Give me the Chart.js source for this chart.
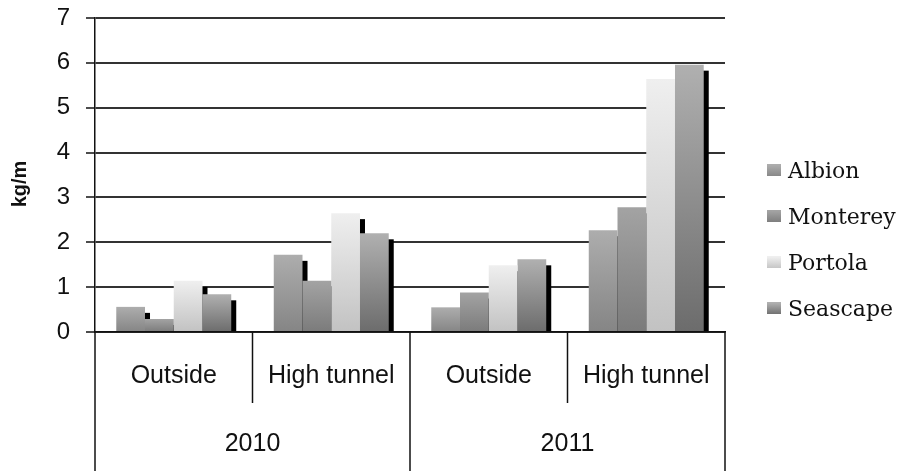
<!DOCTYPE html>
<html>
<head>
<meta charset="utf-8">
<script src="https://cdn.jsdelivr.net/npm/chart.js@4/dist/chart.umd.min.js"></script>
<style>
  html, body { margin: 0; padding: 0; background: #ffffff; }
  #wrap { width: 909px; height: 471px; }
</style>
</head>
<body>
<div id="wrap"><canvas id="c" width="909" height="471"></canvas></div>
<script>
// Yield per metre of row, by variety, growing system and year
const years = ['2010', '2011'];
const systems = ['Outside', 'High tunnel', 'Outside', 'High tunnel'];
const varieties = ['Albion', 'Monterey', 'Portola', 'Seascape'];
const albion   = [0.56, 1.72, 0.55, 2.27];
const monterey = [0.29, 1.14, 0.88, 2.78];
const portola  = [1.14, 2.65, 1.49, 5.64];
const seascape = [0.84, 2.20, 1.62, 5.96];
const yTicks = [0, 1, 2, 3, 4, 5, 6, 7];
const yTitle = 'kg/m';

// top / bottom shades of each bar's vertical gradient
const shades = [
  ['#adadad', '#858585'],
  ['#a3a3a3', '#7b7b7b'],
  ['#efefef', '#c2c2c2'],
  ['#b0b0b0', '#6c6c6c']
];

function barFill(i) {
  return function (ctx) {
    const chart = ctx.chart;
    const y = chart.scales.y;
    if (!chart.chartArea || !y || ctx.raw === undefined) return shades[i][1];
    const top = y.getPixelForValue(ctx.raw);
    const bottom = y.getPixelForValue(0);
    if (!isFinite(top) || !isFinite(bottom) || bottom - top < 1) return shades[i][1];
    const g = chart.ctx.createLinearGradient(0, top, 0, bottom);
    g.addColorStop(0, shades[i][0]);
    g.addColorStop(1, shades[i][1]);
    return g;
  };
}

const seriesValues = [albion, monterey, portola, seascape];
const datasets = varieties.map((name, i) => ({
  label: name,
  data: seriesValues[i],
  backgroundColor: barFill(i),
  borderWidth: 0,
  categoryPercentage: 0.73,
  barPercentage: 1.0
}));

// dark drop shadow to the lower right of every bar
const barShadow = {
  id: 'barShadow',
  beforeDatasetsDraw(chart) {
    const ctx = chart.ctx, a = chart.chartArea;
    ctx.save();
    ctx.beginPath();
    ctx.rect(a.left, a.top - 2, a.right - a.left + 10, a.bottom - a.top + 2);
    ctx.clip();
    ctx.fillStyle = '#000000';
    chart.data.datasets.forEach((ds, di) => {
      chart.getDatasetMeta(di).data.forEach(el => {
        const p = el.getProps(['x', 'y', 'base', 'width'], true);
        const left = p.x - p.width / 2 + 5;
        const top = p.y + 6;
        if (p.base > top) ctx.fillRect(left, top, p.width, p.base - top);
      });
    });
    ctx.restore();
  }
};

// two-level category axis, y title and legend
const decorations = {
  id: 'decorations',
  afterDraw(chart) {
    const ctx = chart.ctx, a = chart.chartArea, x = chart.scales.x;
    const H = chart.height;
    const centers = systems.map((_, i) => x.getPixelForValue(i));
    const bounds = [a.left];
    for (let i = 0; i < centers.length - 1; i++) bounds.push((centers[i] + centers[i + 1]) / 2);
    bounds.push(a.right);

    ctx.save();
    ctx.strokeStyle = '#111111';
    ctx.lineWidth = 1.5;
    bounds.forEach((bx, i) => {
      const yearEdge = i % 2 === 0;
      ctx.beginPath();
      ctx.moveTo(bx, a.bottom);
      ctx.lineTo(bx, yearEdge ? H : 403);
      ctx.stroke();
    });

    ctx.fillStyle = '#111111';
    ctx.textAlign = 'center';
    ctx.textBaseline = 'middle';
    ctx.font = '25px "Liberation Sans", Arial, sans-serif';
    systems.forEach((s, i) => ctx.fillText(s, centers[i], 376));
    years.forEach((yr, k) => ctx.fillText(yr, bounds[2 * k + 1], 444));

    // y axis title
    ctx.save();
    ctx.translate(20, 184);
    ctx.rotate(-Math.PI / 2);
    ctx.font = 'bold 20px "Liberation Sans", Arial, sans-serif';
    ctx.fillText(yTitle, 0, 0);
    ctx.restore();

    // legend
    ctx.textAlign = 'left';
    ctx.font = '22px "DejaVu Serif", serif';
    chart.data.datasets.forEach((ds, i) => {
      const cy = 171 + i * 46;
      const g = ctx.createLinearGradient(0, cy - 6, 0, cy + 6);
      g.addColorStop(0, shades[i][0]);
      g.addColorStop(1, shades[i][1]);
      ctx.fillStyle = g;
      ctx.fillRect(767, cy - 7, 14, 12);
      ctx.fillStyle = '#111111';
      ctx.fillText(ds.label, 788, cy + 1);
    });
    ctx.restore();
  }
};

new Chart(document.getElementById('c'), {
  type: 'bar',
  data: { labels: systems, datasets },
  options: {
    responsive: false,
    animation: false,
    events: [],
    layout: { padding: { left: 0, top: 18, right: 184, bottom: 0 } },
    plugins: {
      legend: { display: false },
      tooltip: { enabled: false }
    },
    scales: {
      x: {
        ticks: { display: false },
        grid: { display: false, drawTicks: false },
        border: { display: true, color: '#111111', width: 1.5 },
        afterFit(scale) { scale.height = 139; scale.paddingLeft = 0; scale.paddingRight = 0; }
      },
      y: {
        min: 0,
        max: 7,
        afterBuildTicks(scale) { scale.ticks = yTicks.map(v => ({ value: v })); },
        ticks: {
          color: '#111111',
          padding: 16,
          font: { family: '"Liberation Sans", Arial, sans-serif', size: 24 }
        },
        grid: {
          color: '#333333',
          lineWidth: 2,
          tickLength: 9,
          tickColor: '#111111',
          tickWidth: 1.5
        },
        border: { display: true, color: '#111111', width: 1.5 },
        afterFit(scale) { scale.width = 95; scale.paddingTop = 0; scale.paddingBottom = 0; }
      }
    }
  },
  plugins: [barShadow, decorations]
});
</script>
</body>
</html>
